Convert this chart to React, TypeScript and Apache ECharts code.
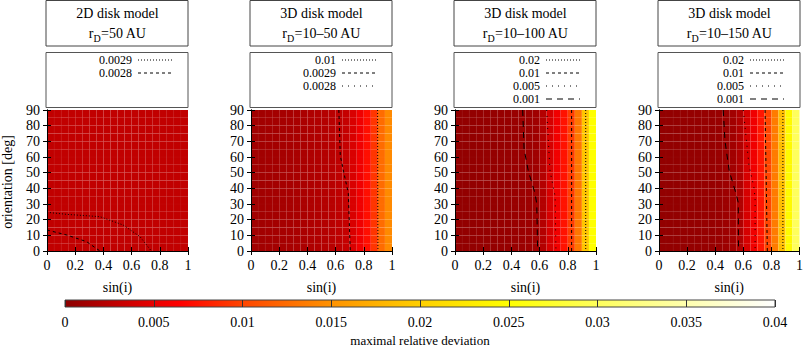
import React, { useEffect, useRef } from "react";
import * as echarts from "echarts";

// ---- data ----
const SIN_EDGES = [0, 0.05, 0.1, 0.15, 0.2, 0.25, 0.3, 0.35, 0.4, 0.45, 0.5, 0.55, 0.6, 0.65, 0.7, 0.75, 0.8, 0.85, 0.9, 0.95, 1];
const ORIENT_EDGES = [0, 5, 10, 15, 20, 25, 30, 35, 40, 45, 50, 55, 60, 65, 70, 75, 80, 85, 90];

const DEV_2D_50 = [0.0029, 0.0029, 0.0029, 0.0029, 0.0029, 0.0029, 0.0029, 0.0029, 0.0029, 0.0029, 0.0029, 0.0029, 0.0029, 0.0029, 0.0029, 0.0029, 0.0029, 0.0029, 0.0029, 0.0029];
const DEV_3D_10_50 = [0.0012, 0.0012, 0.0013, 0.0013, 0.0014, 0.0015, 0.0016, 0.0017, 0.0019, 0.002, 0.0022, 0.0024, 0.0027, 0.0031, 0.0042, 0.0055, 0.0072, 0.0092, 0.0125, 0.0145];
const DEV_3D_10_100 = [0.0004, 0.0004, 0.0004, 0.0005, 0.0005, 0.0005, 0.0006, 0.0006, 0.0007, 0.0008, 0.0009, 0.0011, 0.0022, 0.004, 0.0056, 0.0074, 0.0096, 0.0132, 0.0192, 0.025];
const DEV_3D_10_150 = [0.0004, 0.0004, 0.0004, 0.0005, 0.0005, 0.0005, 0.0006, 0.0006, 0.0007, 0.0009, 0.0012, 0.002, 0.004, 0.0055, 0.0076, 0.01, 0.0135, 0.0185, 0.0245, 0.03];

// contour lines [sin(i), orientation]
const P1_C0029 = [[0, 24.7], [0.14, 23.4], [0.376, 21.9], [0.54, 16.6], [0.66, 9.1], [0.74, 0]];
const P1_C0028 = [[0, 13.4], [0.14, 10.2], [0.28, 6], [0.376, 0]];
const P2_C01 = [[0.898, 90], [0.9, 0]];
const P2_C0029 = [[0.623, 90], [0.633, 61], [0.656, 51], [0.69, 37], [0.704, 0]];
const P3_C002 = [[0.927, 90], [0.927, 0]];
const P3_C001 = [[0.827, 90], [0.827, 0]];
const P3_C0005 = [[0.65, 90], [0.674, 51], [0.71, 35], [0.716, 0]];
const P3_C0001 = [[0.48, 90], [0.49, 65], [0.52, 51], [0.567, 37], [0.58, 30], [0.586, 0]];
const P4_C002 = [[0.882, 90], [0.882, 0]];
const P4_C001 = [[0.755, 90], [0.771, 0]];
const P4_C0005 = [[0.6, 90], [0.64, 55], [0.677, 40], [0.684, 33], [0.684, 0]];
const P4_C0001 = [[0.457, 90], [0.47, 70], [0.5, 51], [0.547, 37], [0.564, 31], [0.566, 0]];

const TITLES = ["2D disk model", "3D disk model", "3D disk model", "3D disk model"];
const RADII = ["=50 AU", "=10\u201350 AU", "=10\u2013100 AU", "=10\u2013150 AU"];
const CB_MIN = 0;
const CB_MAX = 0.04;
const CB_STEP = 0.005;

// ---- styles ----
const FONT = '"Liberation Serif", "DejaVu Serif", serif';
const DOT = [1, 2];
const DASH = [3, 3];
const SPARSE = [1, 5];
const LONG = [6, 5];

const PALETTE: [number, string][] = [
  [0, "#8c0000"],
  [0.005, "#e80000"],
  [0.0065, "#ff0000"],
  [0.01, "#ff4500"],
  [0.015, "#ff9200"],
  [0.02, "#ffcf00"],
  [0.025, "#ffff00"],
  [0.03, "#ffff5c"],
  [0.035, "#ffffae"],
  [0.04, "#ffffff"],
];

function hex(c: string) {
  return [parseInt(c.slice(1, 3), 16), parseInt(c.slice(3, 5), 16), parseInt(c.slice(5, 7), 16)];
}
function colorOf(v: number) {
  if (v <= PALETTE[0][0]) return PALETTE[0][1];
  for (let i = 1; i < PALETTE.length; i++) {
    if (v <= PALETTE[i][0]) {
      const [v0, c0] = PALETTE[i - 1];
      const [v1, c1] = PALETTE[i];
      const t = (v - v0) / (v1 - v0);
      const a = hex(c0), b = hex(c1);
      const r = a.map((x, k) => Math.round(x + (b[k] - x) * t));
      return `rgb(${r[0]},${r[1]},${r[2]})`;
    }
  }
  return PALETTE[PALETTE.length - 1][1];
}

const PANELS = [
  { values: DEV_2D_50, contours: [{ d: P1_C0029, t: DOT }, { d: P1_C0028, t: DASH }], legend: [["0.0029", DOT], ["0.0028", DASH]] },
  { values: DEV_3D_10_50, contours: [{ d: P2_C01, t: DOT }, { d: P2_C0029, t: DASH }], legend: [["0.01", DOT], ["0.0029", DASH], ["0.0028", SPARSE]] },
  { values: DEV_3D_10_100, contours: [{ d: P3_C002, t: DOT }, { d: P3_C001, t: DASH }, { d: P3_C0005, t: SPARSE }, { d: P3_C0001, t: LONG }], legend: [["0.02", DOT], ["0.01", DASH], ["0.005", SPARSE], ["0.001", LONG]] },
  { values: DEV_3D_10_150, contours: [{ d: P4_C002, t: DOT }, { d: P4_C001, t: DASH }, { d: P4_C0005, t: SPARSE }, { d: P4_C0001, t: LONG }], legend: [["0.02", DOT], ["0.01", DASH], ["0.005", SPARSE], ["0.001", LONG]] },
];

const LEFTS = [47, 251, 455, 659];
const TOP = 110;
const SIZE = 141;

function buildOption() {
  const grid: any[] = [];
  const xAxis: any[] = [];
  const yAxis: any[] = [];
  const series: any[] = [];
  const graphic: any[] = [];
  const txt = { fontFamily: FONT, fontSize: 14, color: "#000" };

  PANELS.forEach((p, i) => {
    const L = LEFTS[i];
    grid.push({ left: L, top: TOP, width: SIZE, height: SIZE });
    const axLine = { show: true, lineStyle: { color: "#000", width: 1 } };
    const tick = { show: true, inside: true, length: 4, lineStyle: { color: "#000" } };
    xAxis.push({
      gridIndex: i, type: "value", min: 0, max: 1, interval: 0.2, position: "bottom", z: 10,
      axisLine: axLine, axisTick: tick, splitLine: { show: false },
      axisLabel: { ...txt, margin: 7, showMinLabel: true, showMaxLabel: true, formatter: (v: number) => String(parseFloat(v.toFixed(2))) },
      name: "sin(i)", nameLocation: "middle", nameGap: 29, nameTextStyle: txt,
    });
    xAxis.push({
      gridIndex: i, type: "value", min: 0, max: 1, interval: 0.2, position: "top", z: 10,
      axisLine: axLine, axisTick: tick, splitLine: { show: false }, axisLabel: { show: false },
    });
    yAxis.push({
      gridIndex: i, type: "value", min: 0, max: 90, interval: 10, position: "left", z: 10,
      axisLine: axLine, axisTick: tick, splitLine: { show: false },
      axisLabel: { ...txt, margin: 7, showMinLabel: true, showMaxLabel: true },
    });
    yAxis.push({
      gridIndex: i, type: "value", min: 0, max: 90, interval: 10, position: "right", z: 10,
      axisLine: axLine, axisTick: tick, splitLine: { show: false }, axisLabel: { show: false },
    });

    const cells: number[][] = [];
    for (let c = 0; c < p.values.length; c++) {
      for (let r = 0; r < ORIENT_EDGES.length - 1; r++) {
        cells.push([SIN_EDGES[c], SIN_EDGES[c + 1], ORIENT_EDGES[r], ORIENT_EDGES[r + 1], p.values[c]]);
      }
    }
    series.push({
      type: "custom", xAxisIndex: 2 * i, yAxisIndex: 2 * i, z: 1,
      encode: { x: [0, 1], y: [2, 3] },
      data: cells,
      renderItem: (_params: any, api: any) => {
        const a = api.coord([api.value(0), api.value(3)]);
        const b = api.coord([api.value(1), api.value(2)]);
        return {
          type: "rect",
          shape: { x: a[0], y: a[1], width: b[0] - a[0], height: b[1] - a[1] },
          style: { fill: colorOf(api.value(4)), stroke: "rgba(255,255,255,0.035)", lineWidth: 0.6 },
        };
      },
      silent: true,
    });
    p.contours.forEach((c) => {
      series.push({
        type: "line", xAxisIndex: 2 * i, yAxisIndex: 2 * i, z: 5,
        data: c.d, showSymbol: false, symbol: "none", smooth: false,
        lineStyle: { color: "#000", width: 1, type: c.t }, silent: true,
      });
    });

    // title box
    const bx = L - 1;
    graphic.push({ type: "rect", shape: { x: bx, y: 0.5, width: SIZE + 1, height: 45.5 }, style: { fill: "#fff", stroke: "#444", lineWidth: 1 } });
    graphic.push({ type: "text", x: L + SIZE / 2, y: 13, style: { text: TITLES[i], fontFamily: FONT, fontSize: 14, fill: "#000", align: "center", verticalAlign: "middle" } });
    graphic.push({
      type: "text", x: L + SIZE / 2, y: 33,
      style: {
        text: `{a|r}{b|D}{a|${RADII[i]}}`, align: "center", verticalAlign: "middle",
        rich: {
          a: { fontFamily: FONT, fontSize: 14, fill: "#000", lineHeight: 20, verticalAlign: "middle" },
          b: { fontFamily: FONT, fontSize: 10, fill: "#000", lineHeight: 10, verticalAlign: "bottom" },
        },
      },
    });
    // legend box
    graphic.push({ type: "rect", shape: { x: bx, y: 52.5, width: SIZE + 1, height: 55 }, style: { fill: "#fff", stroke: "#555", lineWidth: 1 } });
    p.legend.forEach((e: any, k: number) => {
      const y = 60 + k * 13;
      graphic.push({ type: "text", x: bx + 86, y, style: { text: e[0], fontFamily: FONT, fontSize: 12, fill: "#000", align: "right", verticalAlign: "middle" } });
      graphic.push({ type: "line", shape: { x1: bx + 92, y1: y, x2: bx + 126, y2: y }, style: { stroke: "#000", lineWidth: 1, lineDash: e[1] } });
    });
  });

  // y axis name
  graphic.push({ type: "text", x: 7, y: 182, rotation: Math.PI / 2, style: { text: "orientation [deg]", fontFamily: FONT, fontSize: 14, fill: "#000", align: "center", verticalAlign: "middle" } });

  // colorbar
  grid.push({ left: 65, top: 300, width: 710, height: 9 });
  xAxis.push({
    gridIndex: 4, type: "value", min: CB_MIN, max: CB_MAX, interval: CB_STEP, z: 10,
    axisLine: { show: false }, axisTick: { show: false },
    splitLine: { show: true, lineStyle: { color: "#333", width: 1 } },
    axisLabel: { ...txt, margin: 8, showMinLabel: true, showMaxLabel: true, formatter: (v: number) => String(parseFloat(v.toFixed(3))) },
    name: "maximal relative deviation", nameLocation: "middle", nameGap: 27, nameTextStyle: { ...txt, fontSize: 13 },
  });
  yAxis.push({ gridIndex: 4, type: "value", min: 0, max: 1, show: false });
  series.push({
    type: "custom", xAxisIndex: 8, yAxisIndex: 8, z: 1, silent: true,
    encode: { x: [0, 1], y: [2, 3] },
    data: [[CB_MIN, CB_MAX, 0, 1]],
    renderItem: (_params: any, api: any) => {
      const a = api.coord([api.value(0), api.value(3)]);
      const b = api.coord([api.value(1), api.value(2)]);
      return {
        type: "rect",
        shape: { x: a[0], y: a[1], width: b[0] - a[0], height: b[1] - a[1] },
        style: {
          fill: new echarts.graphic.LinearGradient(0, 0, 1, 0, PALETTE.map((s) => ({ offset: (s[0] - CB_MIN) / (CB_MAX - CB_MIN), color: s[1] }))),
          stroke: "#444", lineWidth: 1,
        },
      };
    },
  });

  return { animation: false, backgroundColor: "#fff", grid, xAxis, yAxis, series, graphic };
}

export default function App() {
  const ref = useRef<HTMLDivElement>(null);
  useEffect(() => {
    if (!ref.current) return;
    const chart = echarts.init(ref.current, undefined, { renderer: "svg" });
    chart.setOption(buildOption() as any);
    return () => chart.dispose();
  }, []);
  return <div ref={ref} style={{ position: "fixed", left: 0, top: 0, width: 806, height: 348 }} />;
}
